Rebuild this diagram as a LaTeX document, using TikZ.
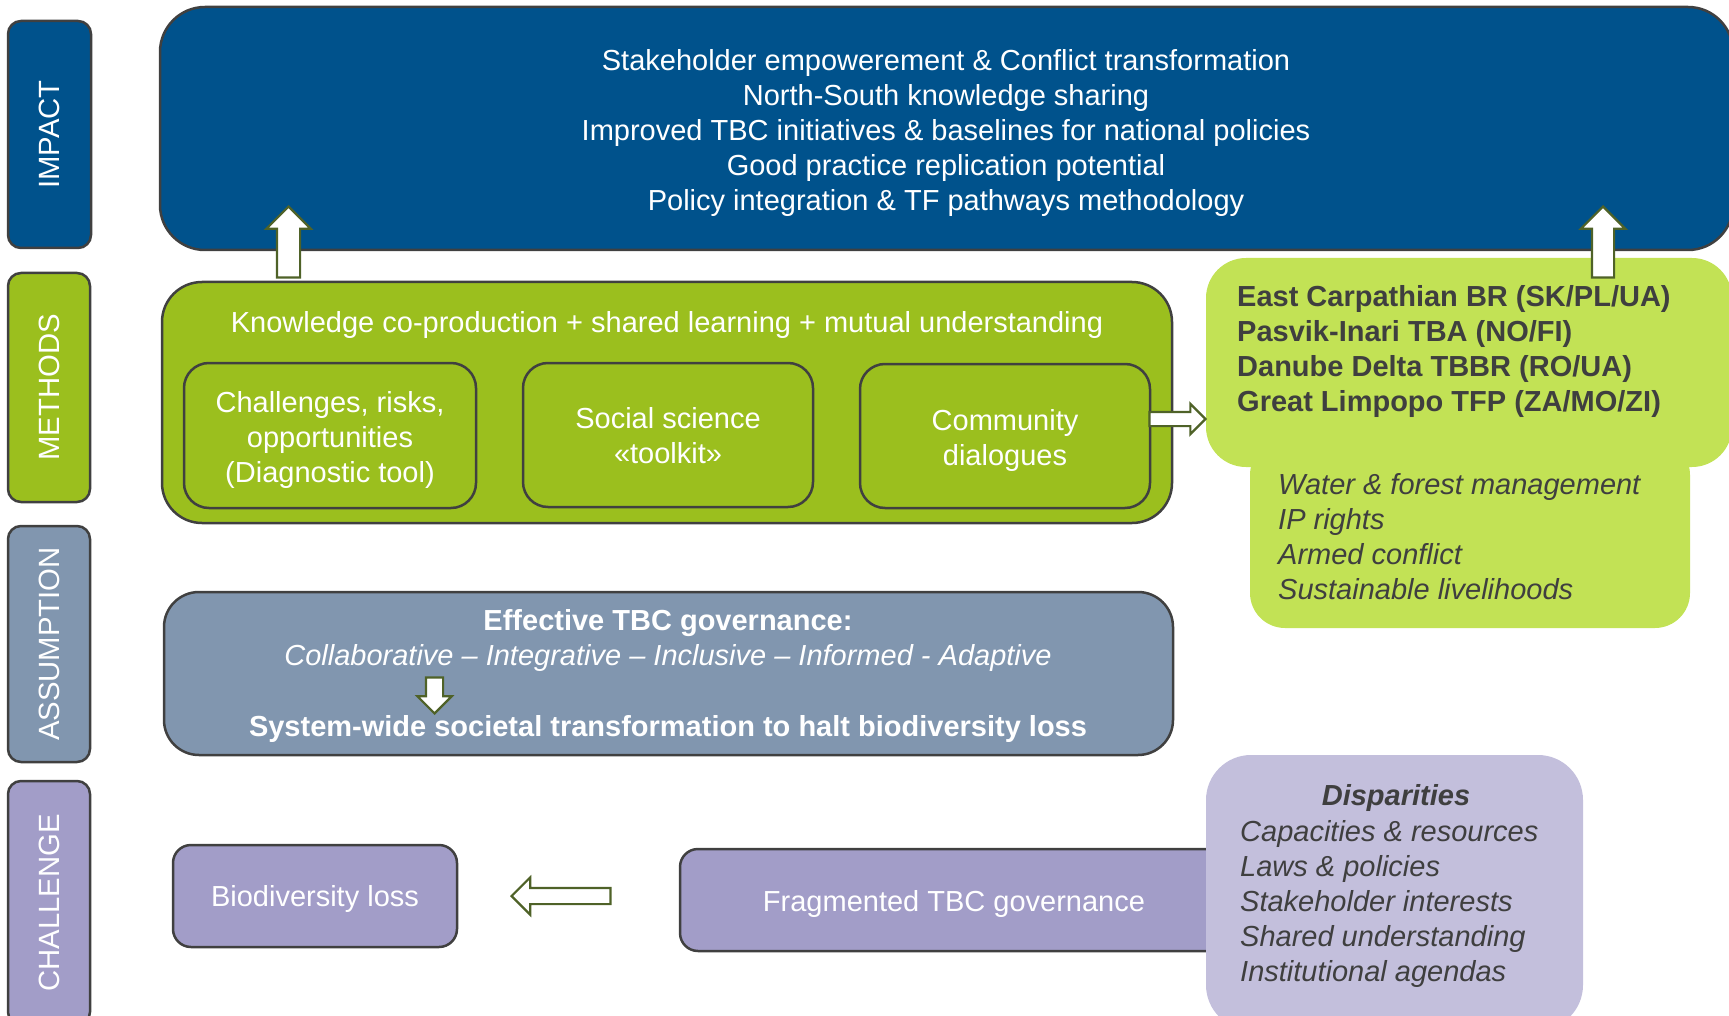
\documentclass[tikz,border=0pt]{standalone}
\usepackage{fontspec}
\setmainfont{Liberation Sans}
\usetikzlibrary{shapes.arrows}
\definecolor{impblue}{HTML}{00528C}
\definecolor{methgreen}{HTML}{9BBF1E}
\definecolor{litegreen}{HTML}{C2E255}
\definecolor{assumgray}{HTML}{8196AF}
\definecolor{challpurple}{HTML}{A29DC8}
\definecolor{disppurple}{HTML}{C3BFDC}
\definecolor{bordergray}{HTML}{404040}
\definecolor{arrowolive}{HTML}{4F6228}
\definecolor{darktext}{HTML}{3F3F3F}
\newcommand\diagfont{\fontsize{29}{35}\selectfont}
\newcommand\labfont{\fontsize{29.3}{34}\selectfont}
\begin{document}
\begin{tikzpicture}[x=1pt,y=-1pt,
  boxed/.style={draw=bordergray, line width=2.5pt, inner sep=0pt},
  plain/.style={inner sep=0pt},
  labelbox/.style={boxed, rounded corners=13pt},
  labeltext/.style={text=white, font=\labfont, inner sep=0pt, rotate=90},
  whitetext/.style={text=white, font=\diagfont, inner sep=0pt, align=center},
  darktextstyle/.style={text=darktext, font=\diagfont, inner sep=0pt, align=left},
  blockarrow/.style={single arrow, draw=arrowolive, fill=white, line width=2.2pt,
    inner xsep=0pt, single arrow tip angle=90, minimum width=0pt, text height=0pt, text depth=0pt, anchor=tip},
]
\useasboundingbox (0,0) rectangle (1729,1016);
\clip (0,0) rectangle (1729,1016);

% side labels
\node[labelbox, fill=impblue, minimum width=83, minimum height=227] (limpact) at (49.5,134.5) {};
\node[labeltext] (limpacttxt) at (limpact.center) {IMPACT};
\node[labelbox, fill=methgreen, minimum width=82, minimum height=229] (lmethods) at (49,387.5) {};
\node[labeltext] (lmethodstxt) at (lmethods.center) {METHODS};
\node[labelbox, fill=assumgray, minimum width=82, minimum height=236] (lassum) at (49,644) {};
\node[labeltext] (lassumtxt) at (lassum.center) {ASSUMPTION};
\node[labelbox, fill=challpurple, minimum width=82, minimum height=244] (lchall) at (49,903) {};
\node[labeltext] (lchalltxt) at (lchall.center) {CHALLENGE};

% impact
\node[boxed, rounded corners=45pt, fill=impblue, minimum width=1573, minimum height=243] (impact) at (946.5,128.5) {};
\node[whitetext] (impacttxt) at (946,133) {Stakeholder empowerement \& Conflict transformation\\
North-South knowledge sharing\\
Improved TBC initiatives \& baselines for national policies\\
Good practice replication potential\\
Policy integration \& TF pathways methodology};

% methods
\node[boxed, rounded corners=40pt, fill=methgreen, minimum width=1010, minimum height=241] (methods) at (667,402.5) {};
\node[whitetext] (methodstxt) at (667,325) {Knowledge co-production + shared learning + mutual understanding};
\node[boxed, rounded corners=25pt, fill=methgreen, minimum width=292, minimum height=145] (diag) at (330,435.5) {};
\node[whitetext] (diagtxt) at (330,440) {Challenges, risks,\\opportunities\\(Diagnostic tool)};
\node[boxed, rounded corners=25pt, fill=methgreen, minimum width=290, minimum height=144] (toolkit) at (668,435) {};
\node[whitetext] (toolkittxt) at (668,436) {Social science\\«toolkit»};
\node[boxed, rounded corners=25pt, fill=methgreen, minimum width=290, minimum height=144] (dialog) at (1005,436) {};
\node[whitetext] (dialogtxt) at (1005,440) {Community\\dialogues};

% case sites
\node[plain, rounded corners=35pt, fill=litegreen, minimum width=440, minimum height=188] (themes) at (1470,534) {};
\node[plain, rounded corners=40pt, fill=litegreen, minimum width=526, minimum height=209] (sites) at (1469,362.5) {};
\node[darktextstyle, anchor=west, font=\diagfont\bfseries] (sitestxt) at (1237,351.5) {East Carpathian BR (SK/PL/UA)\\
Pasvik-Inari TBA (NO/FI)\\
Danube Delta TBBR (RO/UA)\\
Great Limpopo TFP (ZA/MO/ZI)};
\node[darktextstyle, anchor=west, font=\diagfont\itshape] (themestxt) at (1278,536.2) {Water \& forest management\\
IP rights\\
Armed conflict\\
Sustainable livelihoods};

% assumption
\node[boxed, rounded corners=35pt, fill=assumgray, minimum width=1009, minimum height=163] (assum) at (668.5,673.5) {};
\node[whitetext] (assumtxt) at (668,640.5) {\textbf{Effective TBC governance:}\\
\textit{Collaborative – Integrative – Inclusive – Informed - Adaptive}};
\node[whitetext, font=\diagfont\bfseries] (systemtxt) at (668,729) {System-wide societal transformation to halt biodiversity loss};

% challenge
\node[boxed, rounded corners=18pt, fill=challpurple, minimum width=284, minimum height=102] (biodiv) at (315,896) {};
\node[whitetext] (biodivtxt) at (315,899) {Biodiversity loss};
\node[boxed, rounded corners=18pt, fill=challpurple, minimum width=550, minimum height=102] (frag) at (955,900) {};
\node[whitetext] (fragtxt) at (954,903.5) {Fragmented TBC governance};
\node[plain, rounded corners=45pt, fill=disppurple, minimum width=377, minimum height=275] (disp) at (1394.5,892.5) {};
\node[darktextstyle, font=\diagfont\bfseries\itshape, anchor=center] (disptitle) at (1396,798) {Disparities};
\node[darktextstyle, font=\diagfont\itshape, anchor=west] (disptxt) at (1240,903.5) {Capacities \& resources\\
Laws \& policies\\
Stakeholder interests\\
Shared understanding\\
Institutional agendas};

% block arrows
\node[blockarrow, rotate=90, inner ysep=10.5pt, single arrow head extend=10.5pt, minimum height=71] (arrowleftup) at (288.5,205) {};
\node[blockarrow, rotate=90, inner ysep=10pt, single arrow head extend=11pt, minimum height=71] (arrowrightup) at (1603,205) {};
\node[blockarrow, inner ysep=6pt, single arrow head extend=8pt, minimum height=56] (arrowsites) at (1207,419) {};
\node[blockarrow, rotate=-90, inner ysep=7.5pt, single arrow head extend=8.5pt, minimum height=36] (arrowdown) at (434.5,715) {};
\node[blockarrow, rotate=180, inner ysep=7pt, single arrow head extend=10.5pt, minimum height=99] (arrowleft) at (510,896) {};
\end{tikzpicture}
\end{document}
